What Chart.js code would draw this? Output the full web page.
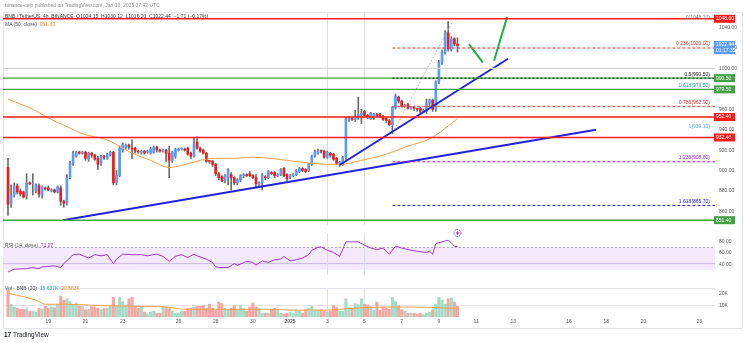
<!DOCTYPE html>
<html>
<head>
<meta charset="utf-8">
<title>BNB 4h chart</title>
<script src="https://cdn.jsdelivr.net/npm/chart.js"></script>
<style>
  body { margin: 0; background: #fff; font-family: "Liberation Sans", Arial, sans-serif; }
  #wrap { position: relative; width: 745px; height: 343px; overflow: hidden; background: #fff; }
  #wrap canvas { position: absolute; left: 0; }
  #frame { position: absolute; left: 3px; top: 12px; width: 740px; height: 317px; border: 1px solid #e3e5ea; box-sizing: border-box; }
  .txt { position: absolute; white-space: nowrap; font-size: 5px; line-height: 6px; color: #444; }
</style>
</head>
<body>
<div id="wrap">
  <div id="frame"></div>
  <canvas id="main" width="745" height="232" style="top:0"></canvas>
  <canvas id="rsi" width="745" height="56" style="top:226px"></canvas>
  <canvas id="vol" width="745" height="47" style="top:281px"></canvas>

  <div class="txt" style="top:2px;left:5px;color:#8a8a8a">binance-coin published on TradingView.com, Jan 10, 2025 07:42 UTC</div>
  <div class="txt" style="top:13px;left:5px;color:#333">BNB / TetherUS, 4h, BINANCE &nbsp;O1024.15 &nbsp;H1030.12 &nbsp;L1016.20 &nbsp;C1022.44 &nbsp;−1.71 (−0.17%)</div>
  <div class="txt" style="top:21px;left:5px;color:#555">MA (50, close) &nbsp;<span style="color:#f08c2a">951.30</span></div>
  <div class="txt" style="top:242px;left:5px;color:#555">RSI (14, close) &nbsp;<span style="color:#9c27b0">71.27</span></div>
  <div class="txt" style="top:285px;left:5px;color:#555">Vol · BNB (20) &nbsp;<span style="color:#26a69a">15.637K</span> &nbsp;<span style="color:#f08c2a">20.583K</span></div>
  <div class="txt" style="top:331px;left:4px;font-size:6.5px;line-height:8px;color:#131722"><b>17</b> TradingView</div>
</div>

<script>
    // ---- candles (4h), index 0 = first visible candle ----
    const opens = [
        903, 867, 876, 885, 880, 879, 875, 888, 887, 880,
        885, 876, 883, 883, 880, 881, 879, 883, 870, 868,
        893, 907, 914, 918, 917, 918, 911, 917, 915, 912,
        906, 914, 912, 915, 918, 888, 895, 920, 922, 925,
        922, 922, 919, 918, 919, 918, 917, 918, 923, 920,
        919, 920, 917, 910, 914, 920, 921, 921, 922, 917,
        914, 928, 922, 920, 917, 909.5, 909, 906, 897, 894,
        890, 893, 896, 893, 888, 891, 895, 896, 897, 895,
        893, 887, 888, 894, 893, 898, 898, 895, 896, 902,
        896, 893, 895, 896, 899, 902, 901, 900, 906, 914,
        917, 919.5, 919, 913, 917, 916, 912, 907, 906, 913,
        950, 951, 950, 953, 955, 958, 954, 951, 952, 955,
        955, 953, 951, 949, 945, 962, 972, 968, 963, 965,
        961, 962, 960.5, 961, 958, 958, 966, 969, 960, 987,
        1006, 1016, 1035, 1019, 1029, 1024
    ];
    const highs = [
        912, 886, 888, 887, 882, 880, 897, 889, 897, 887,
        887, 885, 884, 885, 882, 882, 885, 885, 871, 896,
        909, 919, 919, 919, 919, 919, 918, 918, 916, 914,
        915, 915, 917, 919, 919, 900, 924, 927, 926, 926,
        930, 923, 920, 920, 920, 920, 923, 924, 924, 921,
        921, 921, 924, 919, 922, 922, 922, 922, 923, 918,
        932, 933, 923, 921, 918, 910, 910, 907, 898, 895,
        896, 902, 898, 894, 892, 896, 897, 897, 899, 896,
        896, 889, 897, 895, 900, 899, 899, 897, 902, 903,
        897, 896, 897, 901, 903, 903, 902, 907, 915, 920,
        921, 920, 920, 919, 918, 917, 913, 909, 914, 952,
        953, 952, 959, 972, 960, 959, 955, 957, 956, 956,
        956, 954, 952, 950, 963, 975, 973, 969, 965, 966,
        963, 963, 961, 962, 960, 970, 970, 970, 988, 1008,
        1018, 1037, 1046, 1031, 1030, 1030
    ];
    const lows = [
        856, 864, 874, 877, 875, 873, 872, 886, 876, 878,
        874, 873, 881, 880, 879, 878, 878, 866, 864, 866,
        892, 905, 913, 916, 916, 910, 909, 913, 910, 901,
        905, 911, 911, 914, 886, 886, 894, 918, 921, 921,
        912, 917, 917, 916, 916, 917, 916, 917, 918, 918,
        918, 909, 893, 908, 912, 919, 920, 919, 915, 912,
        913, 921, 918, 916, 908, 907, 904, 895, 891, 889,
        888, 886, 881, 886, 886, 889, 893, 894, 894, 892,
        884, 885, 881, 891, 892, 896, 893, 894, 895, 894,
        890, 892, 894, 895, 898, 899, 898, 899, 905, 913,
        916, 917, 912, 912, 913, 910, 906, 904, 905, 911,
        948, 949, 948, 950, 946, 952, 951, 950, 950, 953,
        952, 949, 947, 944, 936, 960, 966, 962, 962, 960,
        960, 959, 958, 956, 957, 956, 963, 958, 958, 985,
        1004, 1014, 1017, 1017, 1022, 1016
    ];
    const closes = [
        867, 876, 885, 879, 877, 874, 888, 887, 888, 886,
        877, 884, 882, 881, 881, 879, 884, 870, 868, 893,
        907, 917, 918, 917, 918, 912, 917, 915, 911, 906,
        914, 913, 916, 918, 888, 895, 922, 925, 925, 923,
        921, 919, 918, 919, 917, 919, 921, 923, 920, 919,
        920, 917, 910, 918, 921, 921, 921, 920, 916, 914,
        926, 922, 919, 917, 909, 909, 906, 897, 893, 890,
        895, 901, 893, 888, 891, 895, 896, 895, 895, 893,
        887, 888, 895, 893, 899, 897, 895, 896, 901, 895,
        892, 895, 896, 900, 902, 900, 899, 906, 914, 918,
        919, 919, 913, 918, 915, 911, 907, 908, 913, 950,
        951, 950, 953, 955, 956, 954, 953, 956, 955, 954,
        953, 950, 949, 945, 962, 973, 968, 963, 964, 961,
        962, 961, 960, 958, 958.5, 966, 969, 960, 987, 1006,
        1016, 1035, 1019, 1029, 1024, 1022.44
    ];
    // volume in thousands
    const volumes = [
        23.3, 10.9, 8.6, 7.4, 6.7, 6.7, 7.4, 5.0, 5.0, 4.3,
        7.4, 6.7, 9.3, 7.4, 8.6, 7.9, 11.0, 18.1, 14.5, 15.7,
        13.3, 11.0, 12.1, 9.3, 9.0, 6.2, 6.7, 9.0, 8.6, 7.4,
        6.2, 7.4, 7.4, 9.0, 16.9, 9.8, 16.9, 13.3, 9.8, 15.7,
        16.9, 9.0, 7.4, 9.0, 4.3, 2.6, 4.3, 5.0, 3.3, 3.3,
        9.3, 8.6, 7.4, 5.0, 3.3, 3.3, 5.0, 5.0, 7.4, 7.4,
        8.6, 9.3, 9.3, 9.8, 7.4, 11.0, 7.4, 6.2, 12.9, 11.4,
        7.4, 6.2, 7.4, 9.8, 6.2, 9.8, 7.4, 5.0, 8.6, 12.1,
        8.6, 7.4, 3.3, 3.3, 3.3, 6.7, 7.4, 6.2, 3.3, 2.6,
        3.3, 4.3, 3.3, 6.2, 5.0, 3.3, 6.2, 7.4, 9.3, 6.2,
        6.2, 6.7, 5.0, 4.3, 5.0, 9.8, 8.1, 5.0, 5.0, 15.7,
        8.1, 7.4, 11.4, 10.5, 15.7, 11.0, 10.5, 9.0, 5.7, 12.9,
        5.7, 8.6, 7.4, 6.7, 16.9, 13.3, 9.8, 6.2, 5.0, 3.3,
        3.3, 3.3, 2.6, 3.3, 2.1, 3.3, 4.3, 6.2, 11.0, 16.9,
        14.5, 11.0, 15.7, 16.4, 12.9, 9.3
    ];

    // moving averages read at a few candles
    const maIdx  = [0, 8, 14, 19, 24, 32, 40, 46, 52, 56, 62, 67, 72, 79, 90, 98, 107, 114, 122, 129, 136, 143, 145];
    const maVals = [970, 960, 950, 943, 936, 930, 917, 910, 903, 905, 910, 912, 912, 913, 910, 907, 906, 910, 916, 924, 931, 946, 951];
    const volMaIdx  = [0, 9, 12, 19, 30, 40, 51, 57, 83, 94, 97, 101, 107, 111, 121, 130, 139, 145];
    const volMaVals = [20.5, 14.5, 11.0, 11.0, 9.8, 9.3, 8.6, 6.7, 6.7, 5.7, 6.2, 5.7, 6.7, 7.4, 8.6, 8.6, 7.9, 7.4];

    // RSI (14)
    const rsiIdx  = [0, 2, 6, 8, 10, 11, 15, 17, 18, 21, 23, 26, 28, 30, 32, 34, 35, 37, 40, 43, 45, 48, 50, 52, 54, 56, 58, 60, 61, 64, 66, 67, 68, 71, 73, 74, 77, 79, 80, 82, 84, 86, 88, 89, 91, 93, 95, 97, 98, 100, 101, 103, 105, 107, 109, 113, 115, 117, 119, 121, 123, 125, 127, 130, 132, 135, 136, 137, 138, 140, 142, 143, 144, 145];
    const rsiVals = [26, 31, 32, 34, 32, 35, 37, 34, 41, 57, 58, 51, 57, 55, 57, 41, 49, 58, 57, 57, 55, 58, 54, 45, 54, 57, 52, 58, 55, 49, 43, 35, 34, 34, 41, 38, 45, 43, 38, 46, 43, 48, 49, 54, 46, 48, 51, 57, 65, 70, 71, 65, 61, 54, 80, 80, 74, 69, 66, 69, 58, 72, 69, 65, 63, 61, 63, 58, 77, 80, 83, 78, 72, 71.27];

    // time axis
    const dayTicks  = [13, 25, 37, 55, 67, 79, 91, 103, 115, 127, 139, 151, 163, 181, 193, 205, 223];
    const dayLabels = ['19', '21', '23', '26', '28', '30', '2025', '3', '5', '7', '9', '11', '13', '16', '18', '20', '23'];
    const verticalMarks = [103, 115];

    // horizontal support / resistance lines
    const levelPrices = [1048.6, 1000, 990.5, 979.5, 952.4, 932.4, 851.4];
    // fibonacci retracement
    const fibRatios = ['0', '0.236', '0.5', '0.618', '0.786', '1', '1.236', '1.618'];
    const fibPrices = [1046.2, 1020.0, 990.5, 979.5, 962.9, 939.1, 908.6, 865.7];
    const fibStartIdx = 124;
    // price tags on the right axis
    const tagPrices = [1048.6, 990.5, 979.5, 952.4, 932.4, 851.4];
    const lastPrice = 1022.44;
    const countdown = '01:17:35';

    // drawn lines [index, price]
    const trendLower = [[17.7, 851.4], [189.7, 940.0]];
    const trendUpper = [[107.1, 905.7], [161.3, 1009.5]];
    const arrowDown  = [[148.7, 1023.8], [153.2, 1005.7]];
    const arrowUp    = [[156.8, 1007.6], [161.0, 1050.5]];
    const guideLine  = [[124.2, 937.6], [143.2, 1044.8]];

    // ---- styles ----
    const UP = '#5b9cf6', DOWN = '#ee1c1c', WICK = '#6b6b6b';
    const levelStyles = [
        { color: '#ff1a1a', width: 1.5 },
        { color: '#d7d7d7', width: 1.3 },
        { color: '#43a047', width: 1.3 },
        { color: '#43a047', width: 1.3 },
        { color: '#ff1a1a', width: 1.5 },
        { color: '#ff1a1a', width: 1.5 },
        { color: '#43a047', width: 1.5 }
    ];
    const fibStyles = [
        { color: '#787b86', line: false },
        { color: '#e53935', dash: [3, 2] },
        { color: '#222222', dash: [2, 2] },
        { color: '#26a69a', line: false },
        { color: '#e53935', dash: [3, 2] },
        { color: '#5aa7e0', line: false },
        { color: '#a020d0', dash: [3, 2] },
        { color: '#2626c8', dash: [3, 2] }
    ];
    const tagColors = ['#ff1a1a', '#43a047', '#43a047', '#ff1a1a', '#ff1a1a', '#43a047'];

    const X_MIN = -1.613, X_MAX = 228.07;
    const AXIS_W = 30;
    const FONT = '"Liberation Sans", Arial, sans-serif';

    function toPoints(pairs) {
        return pairs.map(p => ({ x: p[0], y: p[1] }));
    }

    function hline(ctx, x1, x2, y, color, width, dash) {
        ctx.save();
        ctx.strokeStyle = color;
        ctx.lineWidth = width;
        ctx.setLineDash(dash || []);
        ctx.beginPath();
        ctx.moveTo(x1, y);
        ctx.lineTo(x2, y);
        ctx.stroke();
        ctx.restore();
    }

    function drawVerticalMarks(chart) {
        const { ctx, chartArea: a, scales: { x } } = chart;
        verticalMarks.forEach(v => {
            const px = Math.round(x.getPixelForValue(v)) + 0.5;
            ctx.save();
            ctx.strokeStyle = '#dedede';
            ctx.lineWidth = 1;
            ctx.beginPath();
            ctx.moveTo(px, a.top);
            ctx.lineTo(px, a.bottom);
            ctx.stroke();
            ctx.restore();
        });
    }

    function tag(ctx, x, y, h, lines, bg) {
        ctx.save();
        ctx.fillStyle = bg;
        ctx.fillRect(x, y - h / 2, 21, h);
        ctx.fillStyle = '#fff';
        ctx.font = '5px ' + FONT;
        ctx.textAlign = 'left';
        ctx.textBaseline = 'middle';
        const step = 6;
        lines.forEach((t, k) => {
            ctx.fillText(t, x + 2, y - (lines.length - 1) * step / 2 + k * step);
        });
        ctx.restore();
    }

    const mainOverlay = {
        id: 'mainOverlay',
        beforeDatasetsDraw(chart) {
            drawVerticalMarks(chart);
        },
        afterDatasetsDraw(chart) {
            const { ctx, chartArea: a, scales: { x, y } } = chart;
            levelPrices.forEach((p, k) => {
                const s = levelStyles[k];
                hline(ctx, a.left, a.right, y.getPixelForValue(p), s.color, s.width);
            });
            const fx = x.getPixelForValue(fibStartIdx);
            ctx.save();
            ctx.font = '5px ' + FONT;
            ctx.textAlign = 'right';
            ctx.textBaseline = 'bottom';
            fibPrices.forEach((p, k) => {
                const s = fibStyles[k];
                const py = y.getPixelForValue(p);
                if (s.line !== false) hline(ctx, fx, a.right, py, s.color, 1, s.dash);
                ctx.fillStyle = s.color;
                ctx.fillText(fibRatios[k] + '(' + p.toFixed(2) + ')', a.right - 5, py - 1.5);
            });
            ctx.restore();
        },
        afterDraw(chart) {
            const { ctx, chartArea: a, scales: { y } } = chart;
            tagPrices.forEach((p, k) => {
                tag(ctx, a.right - 1, y.getPixelForValue(p), 8, [p.toFixed(2)], tagColors[k]);
            });
            tag(ctx, a.right - 1, y.getPixelForValue(lastPrice) + 2, 13, [lastPrice.toFixed(2), countdown], UP);
        }
    };

    const rsiOverlay = {
        id: 'rsiOverlay',
        beforeDatasetsDraw(chart) {
            const { ctx, chartArea: a, scales: { y } } = chart;
            const top = y.getPixelForValue(70), bot = y.getPixelForValue(30);
            ctx.save();
            ctx.fillStyle = '#f4e8fd';
            ctx.fillRect(a.left, top, a.right - a.left, bot - top);
            ctx.restore();
            hline(ctx, a.left, a.right, top, '#a3a3ab', 1, [2, 2]);
            hline(ctx, a.left, a.right, y.getPixelForValue(41), '#cdb9e6', 1);
            drawVerticalMarks(chart);
        },
        afterDraw(chart) {
            const { ctx, chartArea: a, scales: { x } } = chart;
            const cx = x.getPixelForValue(closes.length - 1), cy = a.top;
            ctx.save();
            ctx.strokeStyle = '#a020d0';
            ctx.lineWidth = 1;
            ctx.setLineDash([1.5, 1]);
            ctx.beginPath();
            ctx.arc(cx, cy, 3.5, 0, Math.PI * 2);
            ctx.stroke();
            ctx.setLineDash([]);
            ctx.beginPath();
            ctx.moveTo(cx - 1.5, cy); ctx.lineTo(cx + 1.5, cy);
            ctx.moveTo(cx, cy - 1.5); ctx.lineTo(cx, cy + 1.5);
            ctx.stroke();
            ctx.restore();
        }
    };

    const volOverlay = {
        id: 'volOverlay',
        beforeDatasetsDraw(chart) {
            const { chartArea: a, scales: { y } } = chart;
            hline(chart.ctx, a.left, a.right, a.top + 0.5, '#e0e3eb', 1);
            hline(chart.ctx, a.left, a.right, Math.round(y.getPixelForValue(10)) + 0.5, '#e6e6e6', 1);
            drawVerticalMarks(chart);
        }
    };

    function rightAxis(min, max, step, fmt) {
        return {
            position: 'right',
            min: min,
            max: max,
            afterFit(s) { s.width = AXIS_W; },
            grid: { display: false, drawTicks: false },
            border: { display: false },
            ticks: {
                stepSize: step,
                includeBounds: false,
                padding: 4,
                color: '#555',
                font: { size: 5, family: FONT },
                callback: fmt
            }
        };
    }

    const hiddenX = { type: 'linear', min: X_MIN, max: X_MAX, display: false, offset: false };

    const baseOptions = (padding) => ({
        responsive: false,
        animation: false,
        devicePixelRatio: 1,
        events: [],
        layout: { padding: padding, autoPadding: false },
        plugins: { legend: { display: false }, tooltip: { enabled: false } }
    });

    const upDown = opens.map((o, i) => closes[i] >= o);

    // ---- main price pane ----
    new Chart(document.getElementById('main'), {
        type: 'bar',
        data: {
            datasets: [
                { type: 'line', data: maIdx.map((v, i) => ({ x: v, y: maVals[i] })), borderColor: '#f5a04a', borderWidth: 1, pointRadius: 0, cubicInterpolationMode: 'monotone', order: 1 },
                { type: 'line', data: toPoints(trendLower), borderColor: '#2222dd', borderWidth: 2, pointRadius: 0, order: 0 },
                { type: 'line', data: toPoints(trendUpper), borderColor: '#2222dd', borderWidth: 2, pointRadius: 0, order: 0 },
                { type: 'line', data: toPoints(arrowDown), borderColor: '#1fae4a', borderWidth: 2, pointRadius: 0, order: 0 },
                { type: 'line', data: toPoints(arrowUp), borderColor: '#1fae4a', borderWidth: 2, pointRadius: 0, order: 0 },
                { type: 'line', data: toPoints(guideLine), borderColor: '#b0b0b0', borderWidth: 1, borderDash: [1.5, 2], pointRadius: 0, order: 0 },
                { data: opens.map((o, i) => ({ x: i, y: [o, closes[i]] })), backgroundColor: upDown.map(u => u ? UP : DOWN), barThickness: 2, minBarLength: 1, grouped: false, order: 2 },
                { data: lows.map((l, i) => ({ x: i, y: [l, highs[i]] })), backgroundColor: WICK, barThickness: 1, grouped: false, order: 3 }
            ]
        },
        options: Object.assign(baseOptions({ left: 3, right: 0, top: 13, bottom: 1 }), {
            scales: {
                x: hiddenX,
                y: rightAxis(846.67, 1054.3, 20, v => v.toFixed(2))
            }
        }),
        plugins: [mainOverlay]
    });

    // ---- RSI pane ----
    new Chart(document.getElementById('rsi'), {
        type: 'line',
        data: {
            datasets: [
                { data: rsiIdx.map((v, i) => ({ x: v, y: rsiVals[i] })), borderColor: '#a23bc0', borderWidth: 1, pointRadius: 0 }
            ]
        },
        options: Object.assign(baseOptions({ left: 3, right: 0, top: 7, bottom: 1 }), {
            scales: {
                x: hiddenX,
                y: rightAxis(20.6, 95.9, 20, v => v.toFixed(2))
            }
        }),
        plugins: [rsiOverlay]
    });

    // ---- volume pane with time axis ----
    new Chart(document.getElementById('vol'), {
        type: 'bar',
        data: {
            datasets: [
                { type: 'line', data: volMaIdx.map((v, i) => ({ x: v, y: volMaVals[i] })), borderColor: '#f5a04a', borderWidth: 1, pointRadius: 0, cubicInterpolationMode: 'monotone', order: 0 },
                { data: volumes.map((v, i) => ({ x: i, y: v })), backgroundColor: upDown.map(u => u ? '#a6dbc4' : '#f6a6a5'), barThickness: 2.4, grouped: false, order: 1 }
            ]
        },
        options: Object.assign(baseOptions({ left: 3, right: 0, top: 1, bottom: 0 }), {
            scales: {
                x: {
                    type: 'linear', min: X_MIN, max: X_MAX, offset: false,
                    afterFit(s) { s.height = 11; },
                    afterBuildTicks(s) { s.ticks = dayTicks.map(v => ({ value: v })); },
                    grid: { display: false, drawTicks: false },
                    border: { display: false },
                    ticks: {
                        autoSkip: false,
                        maxRotation: 0,
                        padding: 2,
                        color: '#555',
                        font: ctx => ({ size: 5, family: FONT, weight: (ctx.tick && dayLabels[dayTicks.indexOf(ctx.tick.value)] === '2025') ? 'bold' : 'normal' }),
                        callback: v => dayLabels[dayTicks.indexOf(v)] || ''
                    }
                },
                y: rightAxis(0, 25, 10, v => v === 0 ? '' : v + 'K')
            }
        }),
        plugins: [volOverlay]
    });
</script>
</body>
</html>
